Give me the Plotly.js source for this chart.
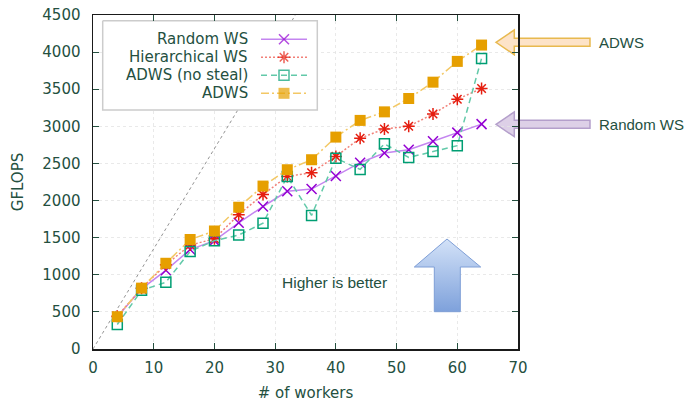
<!DOCTYPE html>
<html>
<head>
<meta charset="utf-8">
<script src="https://cdn.plot.ly/plotly-3.0.1.min.js"></script>
<style>html,body{margin:0;padding:0;background:#fff;}#chart{width:686px;height:402px;}</style>
</head>
<body>
<div id="chart"></div>
<script>
// ---- data ----
var workers = [4, 8, 12, 16, 20, 24, 28, 32, 36, 40, 44, 48, 52, 56, 60, 64];
var randomWS = [435, 810, 1060, 1340, 1460, 1700, 1920, 2125, 2155, 2330, 2510, 2640, 2685, 2800, 2915, 3030];
var hierWS = [440, 820, 1135, 1400, 1485, 1810, 2080, 2325, 2375, 2595, 2840, 2965, 3000, 3165, 3365, 3510];
var adwsNoSteal = [330, 790, 900, 1315, 1460, 1535, 1695, 2325, 1800, 2570, 2420, 2765, 2580, 2660, 2740, 3915];
var adws = [435, 820, 1155, 1475, 1590, 1910, 2195, 2415, 2550, 2855, 3080, 3195, 3375, 3595, 3875, 4095];
var idealX = [0, 36];
var idealY = [0, 4860];
var seriesNames = ['Random WS', 'Hierarchical WS', 'ADWS (no steal)', 'ADWS'];
var xTicks = [0, 10, 20, 30, 40, 50, 60, 70];
var yTicks = [0, 500, 1000, 1500, 2000, 2500, 3000, 3500, 4000, 4500];

// ---- layout geometry (pixels) ----
var L = 93, R = 518, T = 15, B = 349;
function px(x) { return (x - L) / (R - L); }
function py(y) { return (B - y) / (B - T); }
var TXT = '#24503f';
var FONT = 'DejaVu Sans, sans-serif';

var styles = [
  {line: {color: '#c485f0', width: 1.5, dash: 'solid'}, marker: {symbol: 'x-thin-open', size: 10, color: '#9400d3', line: {width: 1.5, color: '#9400d3'}}},
  {line: {color: '#f28078', width: 1.5, dash: '2px,2px'}, marker: {symbol: 'asterisk-open', size: 10, color: '#e51e10', line: {width: 1.5, color: '#e51e10'}}},
  {line: {color: '#62c9a9', width: 1.5, dash: '6px,4px'}, marker: {symbol: 'square-open', size: 10, color: '#009e73', line: {width: 1.5, color: '#009e73'}}},
  {line: {color: '#f3c865', width: 1.5, dash: '8px,3px,2px,3px'}, marker: {symbol: 'square', size: 11, color: '#e69f00', line: {width: 0}}}
];
var seriesVals = [randomWS, hierWS, adwsNoSteal, adws];

var traces = [];
traces.push({x: idealX, y: idealY, mode: 'lines', line: {color: '#777', width: 0.8, dash: '3px,3px'}, showlegend: false, hoverinfo: 'skip'});
for (var i = 0; i < 4; i++) {
  traces.push({x: workers, y: seriesVals[i], name: seriesNames[i], mode: 'lines+markers', line: styles[i].line, marker: styles[i].marker, showlegend: false, cliponaxis: false});
}

// legend box (overlay pixel axes)
var lx0 = 102.7, lx1 = 317.3, ly0 = 20.7, ly1 = 110;
traces.push({x: [lx0, lx1, lx1, lx0, lx0], y: [ly0, ly0, ly1, ly1, ly0], xaxis: 'x2', yaxis: 'y2', mode: 'lines', fill: 'toself', fillcolor: '#ffffff', line: {color: '#cccccc', width: 1.5}, showlegend: false, hoverinfo: 'skip'});
var rowY = [39.3, 57.3, 75.3, 93.3];
var annotations = [];
for (var j = 0; j < 4; j++) {
  traces.push({x: [261, 284, 307], y: [rowY[j], rowY[j], rowY[j]], xaxis: 'x2', yaxis: 'y2', mode: 'lines+markers',
    line: styles[j].line,
    marker: Object.assign({}, styles[j].marker, {size: [0, styles[j].marker.size, 0]}), showlegend: false, hoverinfo: 'skip'});
  annotations.push({xref: 'paper', yref: 'paper', x: px(250), y: py(rowY[j]), xanchor: 'right', yanchor: 'middle', text: seriesNames[j], showarrow: false, font: {family: FONT, size: 15, color: TXT}});
}

// up arrow with gradient
traces.push({x: [447, 480.7, 460.3, 460.3, 434.3, 434.3, 414.3, 447], y: [239, 267, 267, 311.7, 311.7, 267, 267, 239],
  xaxis: 'x2', yaxis: 'y2', mode: 'lines', fill: 'toself',
  fillgradient: {type: 'vertical', start: 239, stop: 311.7, colorscale: [[0, '#d3e2f8'], [1, '#7ea1db']]},
  fillcolor: '#a9c1ea', line: {color: '#7e9ed6', width: 1}, showlegend: false, hoverinfo: 'skip'});

function arrowPath(tipY) {
  var pts = [[496, tipY], [514.3, tipY - 12.3], [514.3, tipY - 4], [590, tipY - 4], [590, tipY + 4], [514.3, tipY + 4], [514.3, tipY + 12.4]];
  return 'M' + pts.map(function (p) { return px(p[0]).toFixed(4) + ',' + py(p[1]).toFixed(4); }).join(' L') + ' Z';
}
var shapes = [
  {type: 'path', xref: 'paper', yref: 'paper', path: arrowPath(42.3), fillcolor: '#fde3c8', line: {color: '#e8b94f', width: 1.5}, layer: 'below'},
  {type: 'path', xref: 'paper', yref: 'paper', path: arrowPath(124.3), fillcolor: '#ddd0e7', line: {color: '#b49fcb', width: 1.5}, layer: 'below'}
];

annotations.push({xref: 'paper', yref: 'paper', x: px(596.5), y: py(42.3), xanchor: 'left', yanchor: 'middle', text: 'ADWS', showarrow: false, font: {family: 'Liberation Sans, Arial, sans-serif', size: 15, color: TXT}});
annotations.push({xref: 'paper', yref: 'paper', x: px(596.5), y: py(124.3), xanchor: 'left', yanchor: 'middle', text: 'Random WS', showarrow: false, font: {family: 'Liberation Sans, Arial, sans-serif', size: 15, color: TXT}});
annotations.push({xref: 'paper', yref: 'paper', x: px(334), y: py(282.5), xanchor: 'center', yanchor: 'middle', text: 'Higher is better', showarrow: false, font: {family: 'Liberation Sans, Arial, sans-serif', size: 15.5, color: TXT}});

var axisCommon = {
  showline: true, linecolor: '#1a1a1a', linewidth: 1.5, mirror: 'ticks',
  ticks: 'inside', ticklen: 6, tickwidth: 1, tickcolor: TXT,
  showgrid: true, gridcolor: '#e4e4e4', griddash: 'dot', gridwidth: 0.8,
  zeroline: false, tickfont: {family: FONT, size: 15, color: TXT}, fixedrange: true
};

var layout = {
  width: 686, height: 402,
  margin: {l: L, r: 686 - R, t: T, b: 402 - B},
  paper_bgcolor: '#ffffff', plot_bgcolor: '#ffffff',
  hovermode: false, showlegend: false,
  xaxis: Object.assign({}, axisCommon, {range: [0, 70], tickvals: xTicks, ticktext: xTicks.map(String), ticklabelstandoff: 4,
    title: {text: '# of workers', font: {family: FONT, size: 15, color: TXT}, standoff: 17}}),
  yaxis: Object.assign({}, axisCommon, {range: [0, 4500], tickvals: yTicks, ticktext: yTicks.map(String), ticklabelstandoff: 8,
    title: {text: 'GFLOPS', font: {family: FONT, size: 15, color: TXT}, standoff: 15}}),
  xaxis2: {overlaying: 'x', range: [L, R], visible: false, fixedrange: true},
  yaxis2: {overlaying: 'y', range: [B, T], visible: false, fixedrange: true},
  shapes: shapes,
  annotations: annotations
};

Plotly.newPlot('chart', traces, layout, {staticPlot: true, displayModeBar: false});
</script>
</body>
</html>
